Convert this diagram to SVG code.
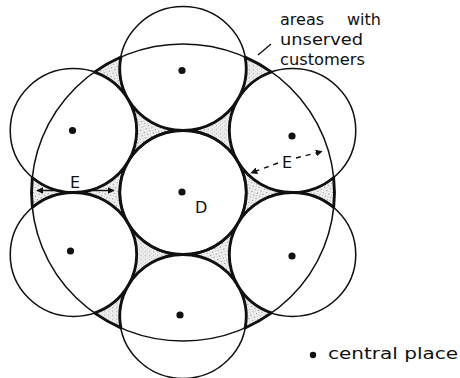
<svg xmlns="http://www.w3.org/2000/svg" width="460" height="378" viewBox="0 0 460 378">
<style>
 .c{fill:none;stroke:#111;stroke-width:1.5}
 .cc{fill:none;stroke:#111;stroke-width:2.4}
 .g{fill:url(#stip);stroke:#111;stroke-width:2.8;stroke-linejoin:round}
 .dot{fill:#111}
 text{font-family:"DejaVu Sans","Liberation Sans",sans-serif;fill:#111;font-size:16px}
 .ln{stroke:#111;stroke-width:1.4;fill:none}
 .dash{stroke:#111;stroke-width:1.4;fill:none;stroke-dasharray:5 5}
</style>
<defs>
 <pattern id="stip" width="4" height="4" patternUnits="userSpaceOnUse">
  <rect width="4" height="4" fill="#f0f0f0"/>
  <circle cx="1" cy="1" r="0.6" fill="#777"/>
  <circle cx="3" cy="3" r="0.5" fill="#aaa"/>
 </pattern>
 <path id="tri" d="M0,-62 A62,62 0 0 1 53.69,-31 A62,62 0 0 1 53.69,-93 A62,62 0 0 1 0,-62 Z"/>
 <path id="otri" d="M53.69,-93 A62,62 0 0 0 60.9,-135.4 A148.5,148.5 0 0 1 86.85,-120.46 A62,62 0 0 0 53.69,-93 Z"/>
 <marker id="ah" viewBox="0 0 10 10" refX="9" refY="5" markerWidth="5" markerHeight="5" orient="auto">
  <path d="M0,0 L10,5 L0,10 z" fill="#111"/>
 </marker>
</defs>
<rect width="460" height="378" fill="#fff"/>
<g transform="translate(183,192.5) scale(1.02,1)">
 <g id="gaps">
  <use href="#tri" class="g"/>
  <use href="#tri" class="g" transform="rotate(60)"/>
  <use href="#tri" class="g" transform="rotate(120)"/>
  <use href="#tri" class="g" transform="rotate(180)"/>
  <use href="#tri" class="g" transform="rotate(240)"/>
  <use href="#tri" class="g" transform="rotate(300)"/>
  <use href="#otri" class="g"/>
  <use href="#otri" class="g" transform="rotate(60)"/>
  <use href="#otri" class="g" transform="rotate(120)"/>
  <use href="#otri" class="g" transform="rotate(180)"/>
  <use href="#otri" class="g" transform="rotate(240)"/>
  <use href="#otri" class="g" transform="rotate(300)"/>
 </g>
 <g id="circles">
  <circle id="big" class="c" r="148.5"/>
  <circle id="top" class="c" cx="0" cy="-124" r="62"/>
  <circle id="upper-right" class="c" cx="107.38" cy="-62" r="62"/>
  <circle id="lower-right" class="c" cx="107.38" cy="62" r="62"/>
  <circle id="bottom" class="c" cx="0" cy="124" r="62"/>
  <circle id="lower-left" class="c" cx="-107.38" cy="62" r="62"/>
  <circle id="upper-left" class="c" cx="-107.38" cy="-62" r="62"/>
  <circle id="central" class="cc" r="62"/>
 </g>
</g>
<g id="dots">
 <circle class="dot" cx="182" cy="192" r="3.6"/>
 <circle class="dot" cx="182" cy="70.5" r="3.6"/>
 <circle class="dot" cx="72.5" cy="130.5" r="3.6"/>
 <circle class="dot" cx="292" cy="136" r="3.6"/>
 <circle class="dot" cx="70.5" cy="251" r="3.6"/>
 <circle class="dot" cx="292" cy="256" r="3.6"/>
 <circle class="dot" cx="180" cy="315" r="3.6"/>
 <circle class="dot" cx="313" cy="355" r="3.2"/>
</g>
<g id="connectors">
 <line class="ln" x1="258" y1="55" x2="271" y2="44"/>
 <line class="dash" x1="278" y1="163" x2="251" y2="173" marker-end="url(#ah)"/>
 <line class="dash" x1="296" y1="158" x2="322" y2="151.5" marker-end="url(#ah)"/>
 <line class="ln" x1="62" y1="190.5" x2="37" y2="190.5" marker-end="url(#ah)"/>
 <line class="ln" x1="88" y1="190.5" x2="114" y2="190.5" marker-end="url(#ah)"/>
</g>
<g id="labels">
 <text x="280" y="25">areas <tspan x="347">with</tspan></text>
 <text x="280" y="45" textLength="83" lengthAdjust="spacingAndGlyphs">unserved</text>
 <text x="280" y="65" textLength="85" lengthAdjust="spacingAndGlyphs">customers</text>
 <text x="328" y="359" textLength="130" lengthAdjust="spacingAndGlyphs">central place</text>
 <text x="70" y="188" font-size="15">E</text>
 <text x="282" y="168" font-size="15">E</text>
 <text x="195" y="213">D</text>
</g>
</svg>
